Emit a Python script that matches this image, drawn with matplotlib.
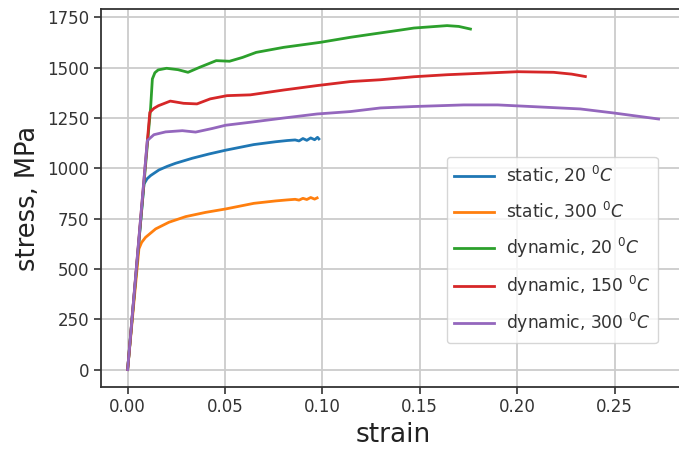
import matplotlib
matplotlib.use("Agg")
import matplotlib.pyplot as plt

# ---- data ----
static20_strain = [0.0, 0.0084, 0.0100, 0.0118, 0.0161, 0.0204, 0.0246, 0.0332, 0.0417, 0.0503,
                   0.0648, 0.0760, 0.0819, 0.086, 0.088, 0.090, 0.092, 0.094, 0.096, 0.0975, 0.0982]
static20_stress = [0, 922, 948, 964, 992, 1010, 1025, 1050, 1071, 1090,
                   1118, 1132, 1138, 1141, 1136, 1148, 1139, 1151, 1142, 1154, 1146]

static300_strain = [0.0, 0.0058, 0.0072, 0.0092, 0.0144, 0.0212, 0.0298, 0.040, 0.0503, 0.0648,
                    0.0760, 0.0819, 0.086, 0.088, 0.090, 0.092, 0.094, 0.096, 0.0973]
static300_stress = [0, 600, 632, 657, 699, 732, 760, 781, 798, 826,
                    838, 843, 846, 842, 851, 845, 855, 847, 853]

dyn20_strain = [0.0, 0.0118, 0.0127, 0.0140, 0.0157, 0.0200, 0.0259, 0.031, 0.037, 0.0455, 0.0523,
                0.059, 0.066, 0.0801, 0.099, 0.1144, 0.1264, 0.1401, 0.147, 0.164, 0.170, 0.176]
dyn20_stress = [0, 1300, 1444, 1475, 1489, 1497, 1490, 1477, 1502, 1535, 1532,
                1551, 1576, 1601, 1626, 1651, 1668, 1687, 1697, 1709, 1705, 1692]

dyn150_strain = [0.0, 0.0114, 0.0135, 0.0158, 0.0219, 0.0287, 0.0356, 0.0424, 0.0510, 0.0630, 0.0801,
                 0.0972, 0.1144, 0.1298, 0.147, 0.164, 0.181, 0.2003, 0.2187, 0.228, 0.235]
dyn150_stress = [0, 1278, 1298, 1311, 1334, 1323, 1320, 1345, 1361, 1365, 1389,
                 1411, 1431, 1440, 1455, 1465, 1472, 1480, 1477, 1468, 1456]

dyn300_strain = [0.0, 0.0101, 0.0135, 0.0195, 0.0281, 0.0349, 0.0435, 0.0503, 0.0631, 0.0802,
                 0.0973, 0.1144, 0.1298, 0.147, 0.1726, 0.190, 0.207, 0.2324, 0.2495, 0.2726]
dyn300_stress = [0, 1138, 1167, 1181, 1187, 1180, 1198, 1214, 1229, 1250,
                 1270, 1282, 1300, 1307, 1315, 1315, 1307, 1295, 1275, 1245]

labels = [r'static, 20 $^0C$', r'static, 300 $^0C$', r'dynamic, 20 $^0C$',
          r'dynamic, 150 $^0C$', r'dynamic, 300 $^0C$']
xticks = [0.00, 0.05, 0.10, 0.15, 0.20, 0.25]
yticks = [0, 250, 500, 750, 1000, 1250, 1500, 1750]

# ---- figure ----
fig = plt.figure(figsize=(6.79, 4.5), dpi=100)
ax = fig.add_axes([0.1488, 0.1407, 0.8616, 0.8386])

series = [(static20_strain, static20_stress), (static300_strain, static300_stress),
          (dyn20_strain, dyn20_stress), (dyn150_strain, dyn150_stress),
          (dyn300_strain, dyn300_stress)]
colors = ['#1f77b4', '#ff7f0e', '#2ca02c', '#d62728', '#9467bd']
for (x, y), c, lab in zip(series, colors, labels):
    ax.plot(x, y, color=c, lw=2.0, label=lab, solid_joinstyle='round')

ax.set_xlim(-0.01365, 0.2867)
ax.set_ylim(-85, 1790)
ax.set_xticks(xticks)
ax.set_xticklabels([f"{v:.2f}" for v in xticks])
ax.set_yticks(yticks)
ax.tick_params(labelsize=12, colors='#333333', labelcolor='#333333', length=5, width=1.2)
ax.grid(True, color='#cccccc', lw=1.3)
ax.set_axisbelow(True)
for s in ax.spines.values():
    s.set_color('#333333')
    s.set_linewidth(1.3)

ax.set_xlabel('strain', fontsize=19, color='#222222')
ax.set_ylabel('stress, MPa', fontsize=18.5, color='#222222')

leg = ax.legend(loc='upper left', bbox_to_anchor=(446.7 / 679, 1 - 156.5 / 450),
                bbox_transform=fig.transFigure, borderaxespad=0, fontsize=12.3,
                labelspacing=0.8, handlelength=2.3, handletextpad=0.7, borderpad=0.45,
                framealpha=0.8, edgecolor='#cccccc', labelcolor='#333333')

fig.savefig('out.png', dpi=100)
